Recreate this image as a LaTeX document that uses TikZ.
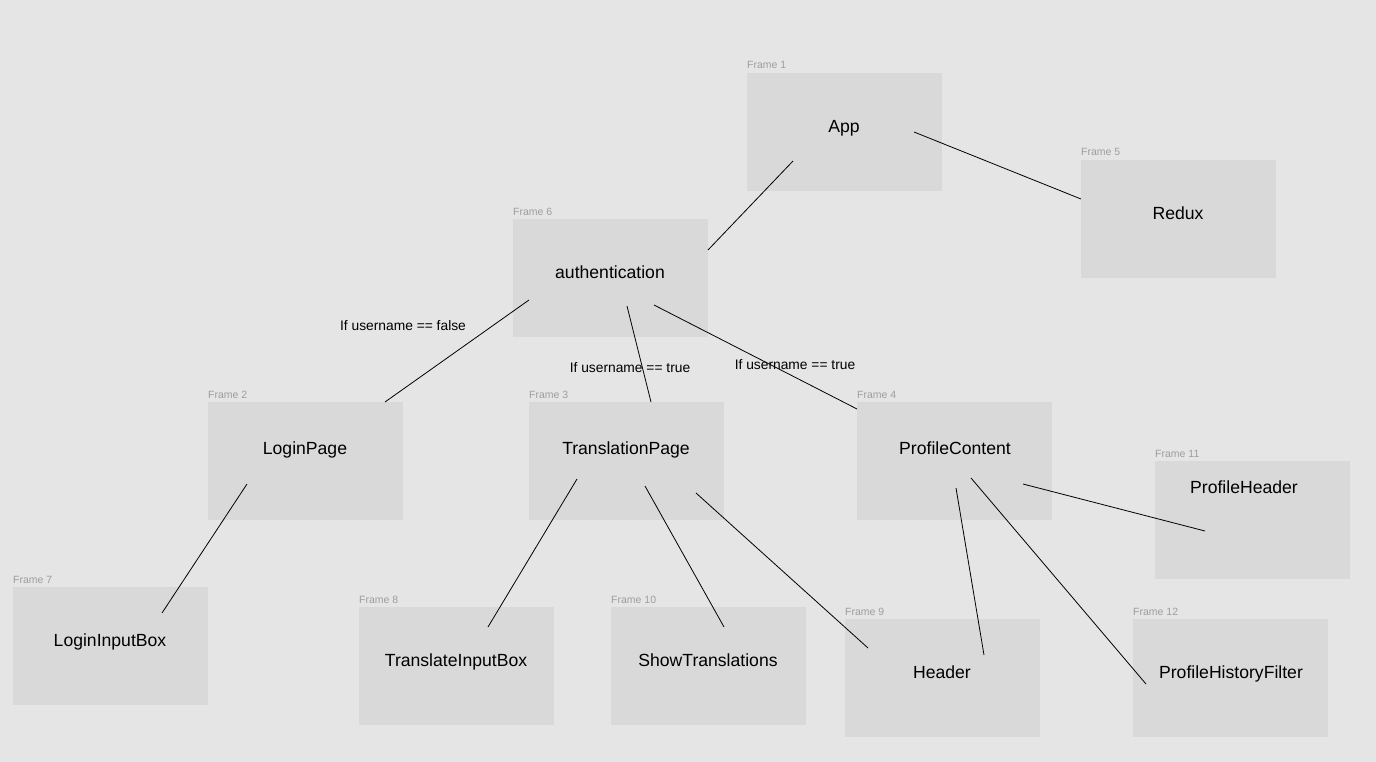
\documentclass[tikz,border=0pt]{standalone}
\usepackage{fontspec}
\setmainfont{Liberation Sans}
\begin{document}
\begin{tikzpicture}[x=1pt,y=-1pt,
  frame/.style={fill=framegray,draw=none,minimum width=195pt,minimum height=118pt,inner sep=0pt,anchor=north west},
  flabel/.style={text=labelgray,font=\fontsize{10.5}{12}\selectfont,anchor=base west,inner sep=0pt},
  ftext/.style={font=\fontsize{17.6}{20}\selectfont,inner sep=0pt,anchor=base},
  cond/.style={font=\fontsize{13.8}{16}\selectfont,inner sep=0pt,anchor=base},
  conn/.style={draw=black,line width=0.8pt}]
\definecolor{bggray}{HTML}{E5E5E5}
\definecolor{framegray}{HTML}{D9D9D9}
\definecolor{labelgray}{HTML}{9E9E9E}
\fill[bggray] (0,0) rectangle (1376,762);
\useasboundingbox (0,0) rectangle (1376,762);
% frames
\node[frame] (f1) at (747,73) {};
\node[frame] (f5) at (1081,160) {};
\node[frame] (f6) at (513,219) {};
\node[frame] (f2) at (208,402) {};
\node[frame] (f3) at (529,402) {};
\node[frame] (f4) at (857,402) {};
\node[frame] (f11) at (1155,461) {};
\node[frame] (f7) at (13,587) {};
\node[frame] (f8) at (359,607) {};
\node[frame] (f10) at (611,607) {};
\node[frame] (f9) at (845,619) {};
\node[frame] (f12) at (1133,619) {};
% frame labels
\node[flabel] (l1) at (747,69) {Frame 1};
\node[flabel] (l5) at (1081,156) {Frame 5};
\node[flabel] (l6) at (513,215) {Frame 6};
\node[flabel] (l2) at (208,398) {Frame 2};
\node[flabel] (l3) at (529,398) {Frame 3};
\node[flabel] (l4) at (857,398) {Frame 4};
\node[flabel] (l11) at (1155,457) {Frame 11};
\node[flabel] (l7) at (13,583) {Frame 7};
\node[flabel] (l8) at (359,603) {Frame 8};
\node[flabel] (l10) at (611,603) {Frame 10};
\node[flabel] (l9) at (845,615) {Frame 9};
\node[flabel] (l12) at (1133,615) {Frame 12};
% texts
\node[ftext] (app) at (844,133) {App};
\node[ftext] (redux) at (1178,219) {Redux};
\node[ftext] (auth) at (610,278) {authentication};
\node[ftext] (login) at (305,454) {LoginPage};
\node[ftext] (trans) at (626,454) {TranslationPage};
\node[ftext] (prof) at (955,454) {ProfileContent};
\node[ftext] (profh) at (1244,493) {ProfileHeader};
\node[ftext] (loginbox) at (110,646) {LoginInputBox};
\node[ftext] (transbox) at (456,666) {TranslateInputBox};
\node[ftext] (show) at (708,666) {ShowTranslations};
\node[ftext] (header) at (942,678) {Header};
\node[ftext] (hist) at (1231,678) {ProfileHistoryFilter};
% condition labels
\node[cond] (c1) at (403,330) {If username == false};
\node[cond] (c2) at (630,372) {If username == true};
\node[cond] (c3) at (795,369) {If username == true};
% connector end points
\coordinate (appA) at (793,161);
\coordinate (authA) at (708,250);
\coordinate (appB) at (914,132);
\coordinate (reduxA) at (1081,199);
\coordinate (authB) at (529,300);
\coordinate (loginA) at (385,402);
\coordinate (authC) at (627,306);
\coordinate (transA) at (651,402);
\coordinate (authD) at (654,305);
\coordinate (profA) at (857,409);
\coordinate (loginB) at (247,484);
\coordinate (loginboxA) at (162,613);
\coordinate (transB) at (577,479);
\coordinate (transboxA) at (488,627);
\coordinate (transC) at (645,486);
\coordinate (showA) at (724,627);
\coordinate (transD) at (696,493);
\coordinate (headerA) at (868,648);
\coordinate (profB) at (956,488);
\coordinate (headerB) at (984,655);
\coordinate (profC) at (971,478);
\coordinate (histA) at (1146,684);
\coordinate (profD) at (1023,484);
\coordinate (profhA) at (1205,531);
% connectors
\draw[conn] (appA) -- (authA);
\draw[conn] (appB) -- (reduxA);
\draw[conn] (authB) -- (loginA);
\draw[conn] (authC) -- (transA);
\draw[conn] (authD) -- (profA);
\draw[conn] (loginB) -- (loginboxA);
\draw[conn] (transB) -- (transboxA);
\draw[conn] (transC) -- (showA);
\draw[conn] (transD) -- (headerA);
\draw[conn] (profB) -- (headerB);
\draw[conn] (profC) -- (histA);
\draw[conn] (profD) -- (profhA);
\end{tikzpicture}
\end{document}
